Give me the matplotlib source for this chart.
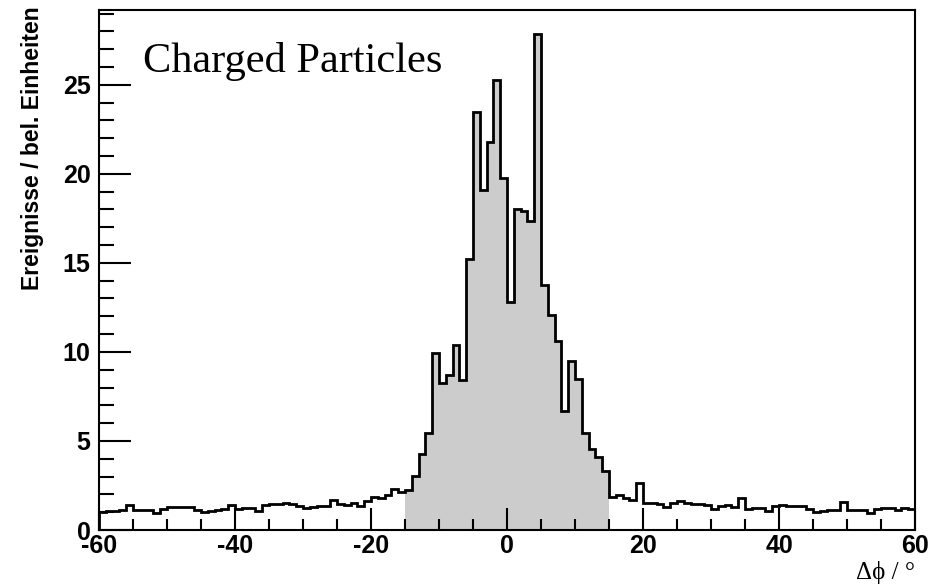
"""
Delta-phi distribution of charged particles, ROOT-style histogram.
"""
import numpy as np
import matplotlib
matplotlib.use("Agg")
import matplotlib.pyplot as plt

plt.rcParams["axes.unicode_minus"] = False

# bin edges: 1 degree bins from -60 to 60
edges = np.arange(-60, 61, 1)

# bin contents (bins -60 .. 59)
tail_left = [1.00, 1.05, 1.08, 1.12, 1.38, 1.15, 1.15, 1.13, 0.95, 1.20,
             1.28, 1.28, 1.28, 1.28, 1.10, 1.00, 1.07, 1.12, 1.18, 1.40,
             1.20, 1.25, 1.25, 1.06, 1.41, 1.47, 1.47, 1.53, 1.47, 1.34,
             1.23, 1.28, 1.34, 1.34, 1.69, 1.47, 1.43, 1.51, 1.34, 1.62,
             1.88, 1.81, 1.99, 2.31, 2.12]
peak = [2.22, 3.06, 4.24, 5.46, 9.96, 8.27, 8.68, 10.40, 8.40, 15.24,
        23.47, 19.07, 21.79, 25.29, 19.79, 12.80, 18.04, 17.91, 17.33, 27.84,
        13.74, 12.05, 10.59, 6.66, 9.47, 8.49, 5.44, 4.56, 4.09, 3.29]
tail_right = [1.84, 1.94, 1.81, 1.69, 2.65, 1.53, 1.53, 1.47, 1.28, 1.53,
              1.62, 1.51, 1.47, 1.47, 1.41, 1.19, 1.32, 1.38, 1.28, 1.79,
              1.19, 1.23, 1.23, 1.04, 1.32, 1.38, 1.32, 1.32, 1.32, 1.19,
              1.00, 1.06, 1.10, 1.15, 1.60, 1.13, 1.10, 1.10, 0.94, 1.19,
              1.25, 1.23, 1.13, 1.25, 1.19]
counts = np.array(tail_left + peak + tail_right)

# shaded signal window
sig_lo, sig_hi = -15, 15

title = "Charged Particles"
ylabel = "Ereignisse / bel. Einheiten"
xlabel = "\u0394\u03d5 / \u00b0"

fig = plt.figure(figsize=(9.5, 5.85), dpi=100)
ax = fig.add_axes([99 / 950, 1 - 530 / 585, 816 / 950, 520 / 585])

# grey fill inside the window
mask = (edges[:-1] >= sig_lo) & (edges[:-1] < sig_hi)
ax.bar(edges[:-1][mask], counts[mask], width=1, align="edge",
       color="#cccccc", linewidth=0, zorder=1)

# histogram outline
ax.stairs(counts, edges, color="black", linewidth=2, zorder=2)

ax.set_xlim(-60, 60)
ax.set_ylim(0, 29.2)

ax.set_xticks(np.arange(-60, 61, 20))
ax.set_xticks(np.arange(-60, 61, 5), minor=True)
ax.set_yticks(np.arange(0, 26, 5))
ax.set_yticks(np.arange(0, 29.1, 1), minor=True)

ax.tick_params(axis="x", which="major", direction="in", length=16, width=1.5,
               top=False, pad=3)
ax.tick_params(axis="x", which="minor", direction="in", length=8, width=1.5,
               top=False)
ax.tick_params(axis="y", which="major", direction="in", length=23, width=1.5,
               right=False, pad=6)
ax.tick_params(axis="y", which="minor", direction="in", length=11, width=1.5,
               right=False)

for lab in ax.get_xticklabels() + ax.get_yticklabels():
    lab.set_family("Liberation Sans")
    lab.set_weight("bold")
    lab.set_fontsize(18)

for sp in ax.spines.values():
    sp.set_linewidth(1.5)

ax.text(0.054, 0.88, title, transform=ax.transAxes, family="Liberation Serif",
        fontsize=30.5, ha="left", va="baseline")

fig.text(33 / 950, 1 - 6 / 585, ylabel, rotation=90, ha="center", va="top",
         family="Liberation Sans", weight="bold", fontsize=16.5)

fig.text(915 / 950, 1 - 579 / 585, xlabel, ha="right", va="baseline",
         family=["Liberation Serif", "DejaVu Serif"], fontsize=18)

fig.savefig("out.png", dpi=100)
